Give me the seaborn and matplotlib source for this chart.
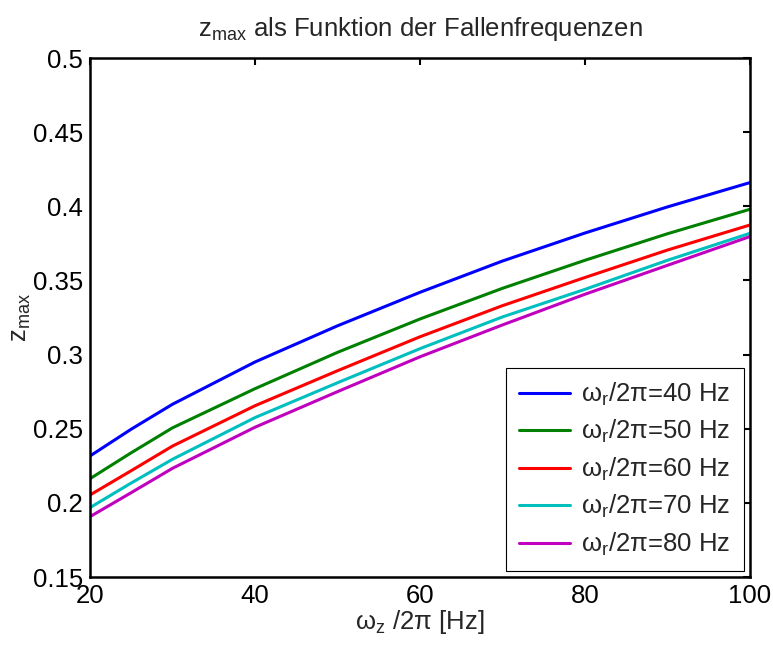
"""
z_max als Funktion der Fallenfrequenzen - seaborn Nachbau
"""
import numpy as np
import pandas as pd
import matplotlib
matplotlib.use('Agg')
import matplotlib.pyplot as plt
import seaborn as sns

# Fallenfrequenz omega_z/2pi [Hz]
OMEGA_Z = [20, 25, 30, 40, 50, 60, 70, 80, 90, 100]

# z_max je radialer Fallenfrequenz
Z_40HZ = [0.2316, 0.2497, 0.2665, 0.2950, 0.3194, 0.3420, 0.3631, 0.3820, 0.3996, 0.4160]
Z_50HZ = [0.2163, 0.2338, 0.2506, 0.2770, 0.3015, 0.3240, 0.3447, 0.3636, 0.3815, 0.3980]
Z_60HZ = [0.2053, 0.2217, 0.2383, 0.2655, 0.2891, 0.3120, 0.3330, 0.3520, 0.3705, 0.3874]
Z_70HZ = [0.1968, 0.2134, 0.2294, 0.2575, 0.2810, 0.3040, 0.3254, 0.3440, 0.3636, 0.3818]
Z_80HZ = [0.1907, 0.2069, 0.2233, 0.2510, 0.2750, 0.2985, 0.3200, 0.3407, 0.3602, 0.3796]

OMEGA_R = [40, 50, 60, 70, 80]
SERIES = [Z_40HZ, Z_50HZ, Z_60HZ, Z_70HZ, Z_80HZ]
COLORS = ['#0000ff', '#008000', '#ff0000', '#00bfbf', '#bf00bf']

X_TICKS = [20, 40, 60, 80, 100]
Y_TICKS = [0.15, 0.2, 0.25, 0.3, 0.35, 0.4, 0.45, 0.5]
Y_TICKLABELS = ['0.15', '0.2', '0.25', '0.3', '0.35', '0.4', '0.45', '0.5']


def main():
    sns.set_theme(style='white')
    plt.rcParams['font.family'] = ['Liberation Sans', 'DejaVu Sans']
    plt.rcParams['mathtext.fontset'] = 'custom'
    plt.rcParams['mathtext.rm'] = 'Liberation Sans'
    plt.rcParams['mathtext.it'] = 'Liberation Sans'

    labels = [f'ω$_\\mathregular{{r}}$/2π={r} Hz' for r in OMEGA_R]
    rows = []
    for lab, vals in zip(labels, SERIES):
        for x, z in zip(OMEGA_Z, vals):
            rows.append({'wz': x, 'zmax': z, 'label': lab})
    df = pd.DataFrame(rows)

    fig = plt.figure(figsize=(7.73, 6.52), dpi=100)
    ax = fig.add_axes([0.1164, 0.115, 0.8538, 0.796])

    sns.lineplot(data=df, x='wz', y='zmax', hue='label', hue_order=labels,
                 palette=COLORS, linewidth=2.2, ax=ax)

    ax.set_xlim(20, 100)
    ax.set_ylim(0.15, 0.5)
    ax.set_xticks(X_TICKS)
    ax.set_yticks(Y_TICKS)
    ax.set_yticklabels(Y_TICKLABELS)
    ax.tick_params(direction='in', length=5, width=1.5, labelsize=18.5,
                   top=True, right=True, colors='black', pad=5)
    for sp in ax.spines.values():
        sp.set_visible(True)
        sp.set_color('black')
        sp.set_linewidth(1.8)

    ax.set_xlabel('ω$_\\mathregular{z}$ /2π [Hz]', fontsize=18.5, labelpad=0)
    ax.set_ylabel('z$_\\mathregular{max}$', fontsize=18.5, labelpad=0)
    ax.set_title('z$_\\mathregular{max}$ als Funktion der Fallenfrequenzen',
                 fontsize=18.5, pad=16)

    leg = ax.legend(loc='lower right', fontsize=18.5, fancybox=False,
                    edgecolor='black', framealpha=1, handlelength=2.0,
                    handletextpad=0.45, borderpad=0.5, labelspacing=0.4,
                    borderaxespad=0.25)
    leg.get_frame().set_linewidth(0.8)

    plt.savefig('out.png', dpi=100)
    plt.close()


if __name__ == '__main__':
    main()
